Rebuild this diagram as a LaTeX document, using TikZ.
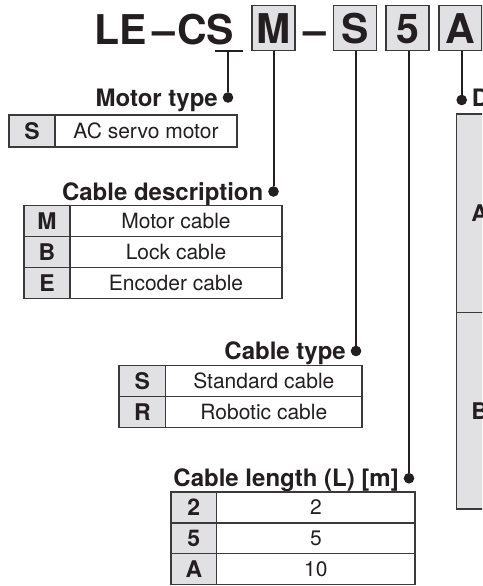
\documentclass[tikz,border=0pt]{standalone}
\usepackage{fontspec}
\setmainfont{TeX Gyre Heros}
\usetikzlibrary{positioning}

\definecolor{inkblack}{HTML}{231F20}
\definecolor{keygray}{HTML}{E1E1E3}
\definecolor{rulegray}{HTML}{3A3A3A}

\tikzset{
  codechar/.style={inner sep=0pt, text=inkblack, font=\bfseries\fontsize{41}{41}\selectfont},
  codebox/.style={codechar, draw=rulegray, line width=1.4pt, fill=keygray,
    minimum width=43pt, minimum height=45pt, outer sep=0pt, text height=29.5pt, text depth=0pt},
  heading/.style={inner sep=0pt, text=inkblack, font=\bfseries\fontsize{24}{24}\selectfont},
  keycell/.style={draw=rulegray, line width=1.2pt, fill=keygray, inner sep=0pt, outer sep=0pt,
    anchor=north west, text=inkblack, font=\bfseries\fontsize{23}{23}\selectfont,
    text height=16.5pt, text depth=0pt},
  valcell/.style={draw=rulegray, line width=1.2pt, fill=white, inner sep=0pt, outer sep=0pt,
    anchor=north west, text=inkblack, font=\fontsize{21}{21}\selectfont,
    text height=15pt, text depth=0pt},
  joint/.style={circle, draw=inkblack, fill=inkblack, line width=1pt, inner sep=0pt, minimum size=9.5pt},
  leader/.style={draw=inkblack, line width=2pt}
}

\begin{document}
\begin{tikzpicture}[x=1pt, y=-1pt]
\clip (0,0) rectangle (482,586);

% part number
\node[codechar, anchor=base west] (le) at (94,44.5) {LE};
\node[codechar, anchor=base] (dash1) at (164,44.5) {–};
\node[codechar, anchor=base west] (cs) at (177,44.5) {CS};
\node[codebox] (boxM) at (273.5,28.3) {M};
\node[codechar, anchor=base] (dash2) at (314.5,44.5) {–};
\node[codebox] (boxS) at (355,28.3) {S};
\node[codebox] (box5) at (407.5,28.3) {5};
\node[codebox] (boxA) at (460.3,28.3) {A};

\coordinate (barL) at (215,50.7);
\coordinate (barR) at (243,50.7);
\coordinate (barC) at (228,50.7);
\draw[leader] (barL) -- (barR);

% joints
\node[joint] (mtdot) at (228,97.5) {};
\node[joint] (cddot) at (273.5,191.5) {};
\node[joint] (ctdot) at (356,351) {};
\node[joint] (cldot) at (409,478.3) {};
\node[joint] (dcdot) at (461.7,100) {};

\draw[leader] (barC) -- (mtdot);
\draw[leader] (boxM.south) -- (cddot);
\draw[leader] (boxS.south -| ctdot) -- (ctdot);
\draw[leader] (box5.south -| cldot) -- (cldot);
\draw[leader] (boxA.south -| dcdot) -- (dcdot);

% motor type
\node[heading, anchor=base east] (mtlbl) at ([shift={(-10,8.5)}]mtdot) {Motor type};
\node[keycell, minimum width=46pt, minimum height=32pt] (mtk1) at (9,115) {S};
\node[valcell, minimum width=182pt, minimum height=32pt] (mtv1) at (mtk1.north east) {AC servo motor};

% cable description
\node[heading, anchor=base east] (cdlbl) at ([shift={(-10,8.5)}]cddot) {Cable description};
\node[keycell, minimum width=46pt, minimum height=30.9pt] (cdk1) at (24,205.7) {M};
\node[valcell, minimum width=212pt, minimum height=30.9pt] (cdv1) at (cdk1.north east) {Motor cable};
\node[keycell, minimum width=46pt, minimum height=30.9pt] (cdk2) at (cdk1.south west) {B};
\node[valcell, minimum width=212pt, minimum height=30.9pt] (cdv2) at (cdk2.north east) {Lock cable};
\node[keycell, minimum width=46pt, minimum height=30.9pt] (cdk3) at (cdk2.south west) {E};
\node[valcell, minimum width=212pt, minimum height=30.9pt] (cdv3) at (cdk3.north east) {Encoder cable};

% cable type
\node[heading, anchor=base east] (ctlbl) at ([shift={(-10,8.5)}]ctdot) {Cable type};
\node[keycell, minimum width=46.7pt, minimum height=30.8pt] (ctk1) at (119,365.7) {S};
\node[valcell, minimum width=196.3pt, minimum height=30.8pt] (ctv1) at (ctk1.north east) {Standard cable};
\node[keycell, minimum width=46.7pt, minimum height=30.8pt] (ctk2) at (ctk1.south west) {R};
\node[valcell, minimum width=196.3pt, minimum height=30.8pt] (ctv2) at (ctk2.north east) {Robotic cable};

% cable length
\node[heading, anchor=base east] (cllbl) at ([shift={(-10,8.5)}]cldot) {Cable length (L) [m]};
\node[keycell, minimum width=45.7pt, minimum height=30.9pt] (clk1) at (171,492) {2};
\node[valcell, minimum width=198.3pt, minimum height=30.9pt] (clv1) at (clk1.north east) {2};
\node[keycell, minimum width=45.7pt, minimum height=30.9pt] (clk2) at (clk1.south west) {5};
\node[valcell, minimum width=198.3pt, minimum height=30.9pt] (clv2) at (clk2.north east) {5};
\node[keycell, minimum width=45.7pt, minimum height=30.9pt] (clk3) at (clk2.south west) {A};
\node[valcell, minimum width=198.3pt, minimum height=30.9pt] (clv3) at (clk3.north east) {10};

% direction (cut off at the right)
\node[heading, anchor=base west] (dclbl) at ([shift={(10,6)}]dcdot) {D};
\node[keycell, minimum width=46pt, minimum height=198.7pt] (dck1) at (456.7,114) {A};
\node[keycell, minimum width=46pt, minimum height=196.3pt] (dck2) at (dck1.south west) {B};

\end{tikzpicture}
\end{document}
